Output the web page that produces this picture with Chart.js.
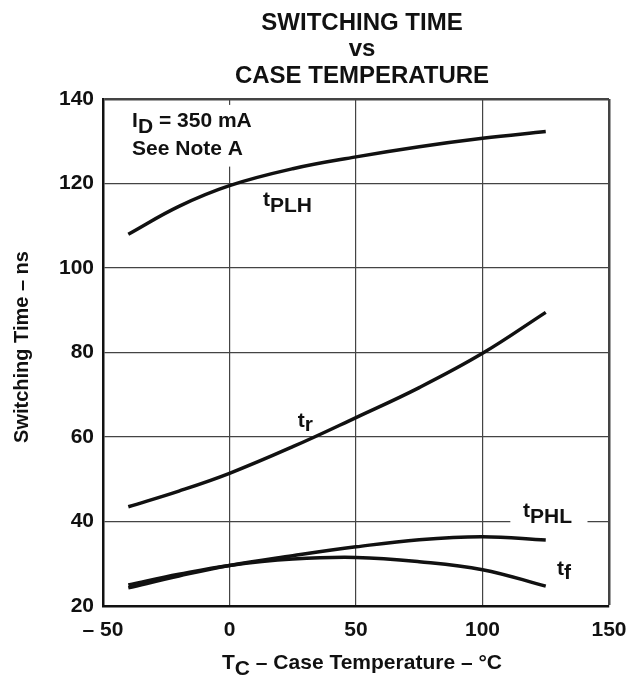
<!DOCTYPE html>
<html>
<head>
<meta charset="utf-8">
<script src="https://cdn.jsdelivr.net/npm/chart.js@4.4.1/dist/chart.umd.min.js"></script>
<style>
  html, body { margin: 0; padding: 0; background: #fff; }
  #chart { display: block; }
</style>
</head>
<body>
<canvas id="chart" width="629" height="675"></canvas>
<script>
// Case temperature (°C) sample points
const temps = [-40, -20, 0, 25, 50, 75, 100, 125];

// Switching times (ns)
const tPLH = [108, 114.6, 119.5, 123.5, 126.3, 128.7, 130.7, 132.3];
const tR   = [43.5, 47.2, 51.4, 57.7, 64.6, 71.7, 79.8, 89.5];
const tPHL = [24.3, 27.1, 29.6, 31.9, 34.0, 35.7, 36.4, 35.6];
const tF   = [25.0, 27.5, 29.6, 31.1, 31.5, 30.5, 28.6, 24.7];

// Tick labels
const xTicks = [-50, 0, 50, 100, 150];
const xTickLabels = ['– 50', '0', '50', '100', '150'];
const yTicks = [20, 40, 60, 80, 100, 120, 140];

const FONT = '"Liberation Sans", Arial, sans-serif';

function toPoints(ys) {
    return temps.map((t, i) => ({ x: t, y: ys[i] }));
}

function curve(label, ys) {
    return {
        label: label,
        data: toPoints(ys),
        showLine: true,
        borderColor: '#111',
        borderWidth: 3.5,
        pointRadius: 0,
        tension: 0.4,
        borderCapStyle: 'butt'
    };
}

// draw text made of pieces, some of them lowered as subscripts
function drawParts(ctx, x, y, parts) {
    let cx = x;
    parts.forEach(p => {
        ctx.font = 'bold ' + p.size + 'px ' + FONT;
        ctx.fillText(p.t, cx, y + (p.dy || 0));
        cx += ctx.measureText(p.t).width;
    });
    return cx;
}

const textPlugin = {
    id: 'texts',
    beforeDatasetsDraw(chart) {
        const ctx = chart.ctx;
        const xs = chart.scales.x, ys = chart.scales.y;
        const px = v => xs.getPixelForValue(v);
        const py = v => ys.getPixelForValue(v);
        ctx.save();
        ctx.textBaseline = 'alphabetic';
        ctx.textAlign = 'left';

        // white boxes that break the grid behind the labels
        ctx.fillStyle = '#fff';
        ctx.fillRect(px(-40), py(138.6), px(11) - px(-40), py(124) - py(138.6));
        ctx.fillRect(px(111), py(44), px(141.5) - px(111), py(38) - py(44));

        ctx.fillStyle = '#111';
        drawParts(ctx, px(-38.5), py(133.4), [
            { t: 'I', size: 21 },
            { t: 'D', size: 21, dy: 6 },
            { t: ' = 350 mA', size: 21 }
        ]);
        drawParts(ctx, px(-38.5), py(126.7), [{ t: 'See Note A', size: 21 }]);

        drawParts(ctx, px(13.2), py(114.7), [
            { t: 't', size: 21 },
            { t: 'PLH', size: 21, dy: 6 }
        ]);
        drawParts(ctx, px(27), py(62.4), [
            { t: 't', size: 21 },
            { t: 'r', size: 21, dy: 4 }
        ]);
        drawParts(ctx, px(116), py(41.1), [
            { t: 't', size: 21 },
            { t: 'PHL', size: 21, dy: 6 }
        ]);
        drawParts(ctx, px(129.4), py(27.3), [
            { t: 't', size: 21 },
            { t: 'f', size: 21, dy: 4 }
        ]);
        ctx.restore();
    },
    afterDraw(chart) {
        const ctx = chart.ctx;
        const area = chart.chartArea;
        const mid = (area.left + area.right) / 2 + 6;
        ctx.save();
        ctx.fillStyle = '#111';
        ctx.textAlign = 'center';
        ctx.textBaseline = 'alphabetic';
        ctx.font = 'bold 24px ' + FONT;
        ctx.fillText('SWITCHING TIME', mid, 30);
        ctx.fillText('vs', mid, 56);
        ctx.fillText('CASE TEMPERATURE', mid, 83);

        // x axis title with subscript C
        ctx.textAlign = 'left';
        const parts = [
            { t: 'T', size: 21 },
            { t: 'C', size: 21, dy: 6 },
            { t: ' – Case Temperature – °C', size: 21 }
        ];
        let w = 0;
        parts.forEach(p => { ctx.font = 'bold ' + p.size + 'px ' + FONT; w += ctx.measureText(p.t).width; });
        drawParts(ctx, mid - w / 2, 669, parts);

        // y axis title
        ctx.translate(28, 347);
        ctx.rotate(-Math.PI / 2);
        ctx.textAlign = 'center';
        ctx.font = 'bold 20px ' + FONT;
        ctx.fillText('Switching Time – ns', 0, 0);
        ctx.restore();
    }
};

new Chart(document.getElementById('chart').getContext('2d'), {
    type: 'scatter',
    data: {
        datasets: [
            curve('tPLH', tPLH),
            curve('tr', tR),
            curve('tPHL', tPHL),
            curve('tf', tF)
        ]
    },
    options: {
        responsive: false,
        animation: false,
        devicePixelRatio: 1,
        layout: { padding: { top: 99, right: 20, left: 0, bottom: 0 } },
        plugins: {
            legend: { display: false },
            tooltip: { enabled: false },
            title: { display: false }
        },
        scales: {
            x: {
                type: 'linear',
                min: -50,
                max: 150,
                afterFit: s => { s.height = 69; s.paddingLeft = 0; s.paddingRight = 0; },
                afterBuildTicks: s => { s.ticks = xTicks.map(v => ({ value: v })); },
                ticks: {
                    padding: 12,
                    color: '#111',
                    font: { family: FONT, size: 21, weight: 'bold' },
                    callback: v => xTickLabels[xTicks.indexOf(v)]
                },
                grid: {
                    color: '#444',
                    lineWidth: c => (c.tick && c.tick.value === 150 ? 2.5 : 1.2),
                    drawTicks: false
                },
                border: { color: '#111', width: 2.5 }
            },
            y: {
                type: 'linear',
                min: 20,
                max: 140,
                afterFit: s => { s.width = 103; s.paddingTop = 0; s.paddingBottom = 0; },
                afterBuildTicks: s => { s.ticks = yTicks.map(v => ({ value: v })); },
                ticks: {
                    padding: 9,
                    color: '#111',
                    font: { family: FONT, size: 21, weight: 'bold' }
                },
                grid: {
                    color: '#444',
                    lineWidth: c => (c.tick && c.tick.value === 140 ? 2.5 : 1.2),
                    drawTicks: false
                },
                border: { color: '#111', width: 2.5 }
            }
        }
    },
    plugins: [textPlugin]
});
</script>
</body>
</html>
